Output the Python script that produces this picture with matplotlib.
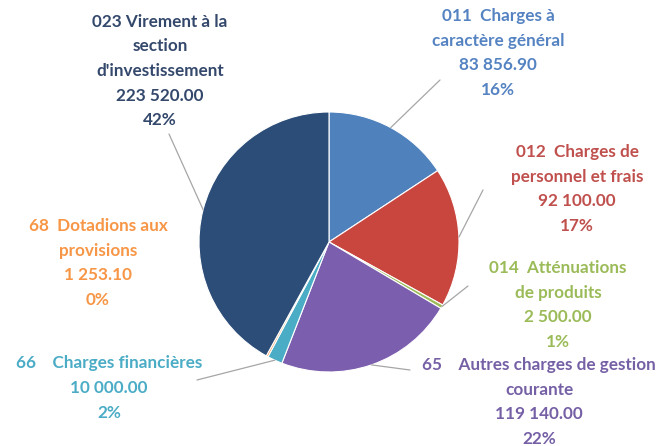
import numpy as np
import matplotlib
matplotlib.use("Agg")
import matplotlib.pyplot as plt

# ---- data ----
categories = ["011  Charges à\ncaractère général",
              "012  Charges de\npersonnel et frais",
              "014  Atténuations\nde produits",
              "65    Autres charges de gestion\ncourante",
              "66    Charges financières",
              "68  Dotadions aux\nprovisions",
              "023 Virement à la\nsection\nd'investissement"]
values = [83856.90, 92100.00, 2500.00, 119140.00, 10000.00, 1253.10, 223520.00]
percent_labels = ["16%", "17%", "1%", "22%", "2%", "0%", "42%"]
colors = ["#4F81BD", "#C9463E", "#9BBB59", "#7B5EAE", "#4BACC6", "#F79646", "#2C4D78"]
text_colors = ["#5583C2", "#C0504D", "#9BBB59", "#7560A6", "#4BACC6", "#F79646", "#34486C"]

W, H = 659, 446
fig = plt.figure(figsize=(W / 100, H / 100), dpi=100)
fig.patch.set_facecolor("white")

# pie axes: center (329, 242) px, radius 130 px
cx, cy, r = 329, 242, 130
ax = fig.add_axes([(cx - r) / W, (H - cy - r) / H, 2 * r / W, 2 * r / H])
wedges, _ = ax.pie(values, colors=colors, startangle=90, counterclock=False,
                   radius=1.0, wedgeprops=dict(linewidth=0.8, edgecolor="white"))
ax.set_xlim(-1, 1)
ax.set_ylim(-1, 1)
ax.set_aspect("equal")
ax.axis("off")

font = "Lato"
FS = 12.3
LS = 1.66

def fmt(v):
    return f"{v:,.2f}".replace(",", " ")

# label layout (pixel coords, y from top): (x, y_center, leader start)
layout = [
    (498, 53, (440, 80)),
    (577, 189, (483, 190)),
    (558, 305, (468, 286)),
    (539, 402, (410, 370)),
    (109, 388, (197, 380)),
    (98, 263, None),
    (160, 71, (169, 134)),
]

for i, (w, v) in enumerate(zip(wedges, values)):
    x, y, lstart = layout[i]
    txt = categories[i] + "\n" + fmt(v) + "\n" + percent_labels[i]
    fig.text(x / W, 1 - y / H, txt, ha="center", va="center", multialignment="center",
             color=text_colors[i], fontsize=FS, fontweight="bold", family=font,
             linespacing=LS)
    if lstart is not None:
        ang = np.deg2rad((w.theta1 + w.theta2) / 2)
        ax.annotate("", xy=(np.cos(ang), np.sin(ang)), xycoords="data",
                    xytext=(lstart[0], H - lstart[1]), textcoords="figure pixels",
                    arrowprops=dict(arrowstyle="-", color="#A6A6A6", lw=0.9,
                                    shrinkA=0, shrinkB=0))

fig.savefig("out.png", dpi=100, facecolor="white")
